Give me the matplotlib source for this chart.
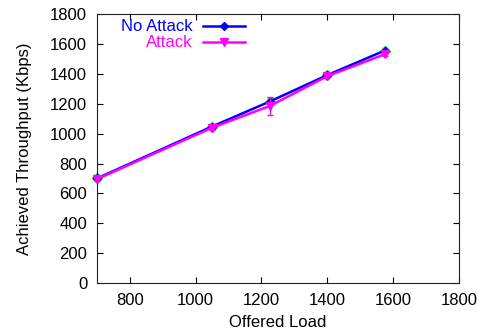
import matplotlib
matplotlib.use('Agg')
import matplotlib.pyplot as plt

plt.rcParams['font.family'] = ['Liberation Sans', 'DejaVu Sans']

offered = [700, 1050, 1225, 1400, 1575]
no_attack = [700, 1048, 1215, 1392, 1557]
no_attack_err = [8, 10, 25, 10, 12]
attack = [695, 1040, 1185, 1385, 1532]
attack_err = [10, 12, 60, 12, 15]

fig = plt.figure(figsize=(4.82, 3.31), dpi=100)
ax = fig.add_axes([0.201, 0.145, 0.751, 0.812])

# green error bars under the lines, gnuplot style
ax.errorbar(offered, no_attack, yerr=no_attack_err, fmt='D', color='#00dd00',
            ms=5, capsize=2, lw=1, zorder=2, clip_on=False)
ax.plot(offered, no_attack, color='#0000ff', lw=1.8, marker='D', ms=4, zorder=3,
        clip_on=False)
ax.errorbar(offered, attack, yerr=attack_err, color='#ff00ff', lw=1.8,
            marker='v', ms=6, capsize=2, elinewidth=1, zorder=4, clip_on=False)

ax.set_xlim(700, 1800)
ax.set_ylim(0, 1800)
ax.set_xticks(range(800, 1801, 200))
ax.set_yticks(range(0, 1801, 200))
ax.tick_params(direction='in', top=True, right=True, labelsize=12, length=4)
ax.tick_params(axis='y', pad=7)
ax.tick_params(axis='x', pad=7)
for s in ax.spines.values():
    s.set_color('#222222')
ax.set_xlabel('Offered Load', fontsize=12, labelpad=5)
ax.set_ylabel('Achieved Throughput (Kbps)', fontsize=12, labelpad=13)

# gnuplot-like key: right-aligned labels, sample line to the right
key = [('No Attack', '#0000ff', 'D', 4, 0.955), ('Attack', '#ff00ff', 'v', 6, 0.895)]
for label, color, mk, ms, ypos in key:
    ax.text(0.265, ypos, label, color=color, fontsize=12, ha='right', va='center',
            transform=ax.transAxes)
    ax.plot([0.293, 0.409], [ypos, ypos], color=color, lw=1.8,
            transform=ax.transAxes, clip_on=False)
    ax.plot([0.351], [ypos], color=color, marker=mk, ms=ms,
            transform=ax.transAxes, clip_on=False)

fig.savefig('out.png', dpi=100)
